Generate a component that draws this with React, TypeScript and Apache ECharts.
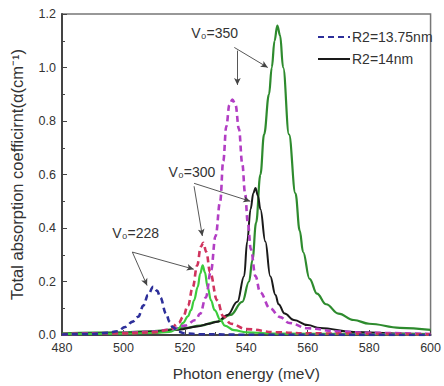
import { useEffect, useRef } from "react";
import * as echarts from "echarts";

// x: photon energy (meV), y: absorption coefficient
const blueDashed228 = [
  [480, 0.002], [490, 0.004], [495, 0.008], [498, 0.014], [500.6, 0.03], [503, 0.05], [504.8, 0.068],
  [506.5, 0.11], [508, 0.15], [509.7, 0.18], [511, 0.165], [512, 0.14], [513.9, 0.08], [515, 0.05],
  [516, 0.03], [518, 0.012], [520, 0.006], [525, 0.003], [540, 0.001], [600, 0.0],
];
const greenSolid228 = [
  [480, 0.003], [500, 0.005], [510, 0.008], [515, 0.012], [518, 0.025], [519.4, 0.045], [521, 0.07],
  [522, 0.093], [523, 0.13], [524.2, 0.18], [525, 0.23], [525.8, 0.26], [526.5, 0.235], [527.4, 0.18],
  [528.5, 0.13], [529.7, 0.093], [531.6, 0.056], [533, 0.035], [536, 0.018], [540, 0.01], [550, 0.005],
  [600, 0.002],
];
const redDashed300 = [
  [480, 0.003], [500, 0.006], [510, 0.01], [515, 0.02], [518, 0.045], [519.4, 0.067], [521, 0.11],
  [522.6, 0.18], [524, 0.26], [525.2, 0.33], [526, 0.345], [527, 0.31], [528.2, 0.235], [530.5, 0.13],
  [532.5, 0.07], [535, 0.042], [540, 0.022], [550, 0.01], [560, 0.006], [600, 0.002],
];
const blackSolid300 = [
  [480, 0.003], [500, 0.007], [510, 0.012], [518, 0.02], [524, 0.032], [528, 0.042], [530.6, 0.05],
  [533.9, 0.075], [537.1, 0.124], [539.3, 0.22], [540.3, 0.35], [541.4, 0.47], [542.3, 0.53], [543, 0.55],
  [543.8, 0.52], [544.6, 0.47], [546.2, 0.35], [547.8, 0.22], [549.5, 0.15], [550.5, 0.115], [552.5, 0.08],
  [555.5, 0.056], [560, 0.037], [564, 0.026], [575, 0.011], [590, 0.006], [600, 0.004],
];
const magentaDashed350 = [
  [480, 0.003], [500, 0.008], [510, 0.013], [515, 0.02], [520, 0.035], [523.5, 0.056], [525, 0.08],
  [526.8, 0.14], [528.5, 0.24], [530, 0.37], [531.5, 0.5], [532.5, 0.65], [533.5, 0.78], [534.5, 0.86],
  [535.5, 0.88], [536.5, 0.86], [537.6, 0.77], [538.7, 0.64], [539.6, 0.53], [540.5, 0.42], [541.5, 0.32],
  [543, 0.22], [544.5, 0.16], [547.7, 0.1], [551, 0.067], [554, 0.045], [560, 0.025], [570, 0.013],
  [580, 0.008], [600, 0.004],
];
const greenSolid350 = [
  [480, 0.006], [500, 0.01], [510, 0.015], [520, 0.026], [525, 0.035], [530.6, 0.05], [534.9, 0.075],
  [538.7, 0.124], [540.9, 0.2], [542, 0.28], [543.2, 0.42], [544.6, 0.6], [545.8, 0.75], [547.4, 0.9],
  [548.3, 1.0], [549.2, 1.1], [550.1, 1.157], [551, 1.12], [552, 1.0], [553.9, 0.75], [556, 0.53],
  [557.4, 0.39], [558.5, 0.31], [560.6, 0.21], [563, 0.155], [566, 0.115], [570, 0.08], [575, 0.056],
  [580, 0.042], [590, 0.027], [600, 0.019],
];

const legendNames = ["R2=13.75nm", "R2=14nm"];

// annotations: label text and position, arrows (data coords)
const annotLabels = [
  { text: "V₀=350", at: [529.7, 1.13] },
  { text: "V₀=300", at: [522.3, 0.608] },
  { text: "V₀=228", at: [504.0, 0.38] },
];
const annotArrows = [
  [[537.1, 1.063], [537.1, 0.935]],
  [[536.1, 1.075], [547.0, 1.0]],
  [[523.0, 0.567], [541.3, 0.5]],
  [[523.0, 0.556], [525.7, 0.37]],
  [[502.9, 0.31], [522.9, 0.246]],
  [[502.9, 0.31], [507.7, 0.185]],
];

const xMin = 480, xMax = 600, xStep = 20;
const yMin = 0, yMax = 1.2, yStep = 0.2;

export default function App() {
  const ref = useRef<HTMLDivElement>(null);
  useEffect(() => {
    const chart = echarts.init(ref.current!, null, { renderer: "svg" });
    const dashed = (color: string, data: number[][], name: string) => ({
      type: "line", name, data, showSymbol: false, symbol: "none", smooth: 0.4, smoothMonotone: "x",
      lineStyle: { color, width: 2.6, type: [6, 4] }, itemStyle: { color }, z: 3,
    });
    const solid = (color: string, data: number[][], name: string, width = 2) => ({
      type: "line", name, data, showSymbol: false, symbol: "none", smooth: 0.4, smoothMonotone: "x",
      lineStyle: { color, width }, itemStyle: { color }, z: 2,
    });
    const axisFont = { fontFamily: "Liberation Sans, Arial, sans-serif", fontSize: 12, color: "#333" };
    chart.setOption({
      animation: false,
      grid: { left: 62, right: 9, top: 14, bottom: 51, show: true, borderColor: "#777", borderWidth: 1.5 },
      legend: {
        data: legendNames, orient: "vertical", left: 312, top: 25, itemWidth: 32, itemHeight: 12, itemGap: 8,
        itemStyle: { opacity: 0 },
        textStyle: { ...axisFont, fontSize: 14, color: "#333", padding: [0, 0, 0, -3] },
      },
      xAxis: {
        type: "value", min: xMin, max: xMax, interval: xStep,
        name: "Photon energy (meV)", nameLocation: "middle", nameGap: 30,
        nameTextStyle: { ...axisFont, fontSize: 15.5 },
        axisLine: { lineStyle: { color: "#444", width: 2 } },
        axisTick: { inside: true, length: 5, lineStyle: { color: "#444" } },
        minorTick: { show: true, splitNumber: 2, length: 3, lineStyle: { color: "#444" } },
        splitLine: { show: false },
        axisLabel: { ...axisFont, fontSize: 12.5, margin: 6, formatter: (v: number) => String(v) },
      },
      yAxis: {
        type: "value", min: yMin, max: yMax, interval: yStep,
        name: "Total absorption coefficirnt(α(cm⁻¹)", nameLocation: "middle", nameGap: 37,
        nameTextStyle: { ...axisFont, fontSize: 16.5 },
        axisLine: { show: true, lineStyle: { color: "#444", width: 2 } },
        axisTick: { show: true, inside: true, length: 5, lineStyle: { color: "#444" } },
        minorTick: { show: true, splitNumber: 2, length: 3, lineStyle: { color: "#444" } },
        splitLine: { show: false },
        axisLabel: { ...axisFont, fontSize: 12.5, margin: 6, formatter: (v: number) => v.toFixed(1) },
      },
      series: [
        solid("#2e8b2e", greenSolid350, "g350", 2.2),
        solid("#1a1a1a", blackSolid300, "k300", 2),
        solid("#3ccc3c", greenSolid228, "g228", 2.2),
        dashed("#b23ec4", magentaDashed350, "m350"),
        dashed("#d0345e", redDashed300, "r300"),
        dashed("#2d2f9a", blueDashed228, "b228"),
        { type: "line", name: legendNames[0], data: [], symbol: "none", showSymbol: false, lineStyle: { color: "#2d2f9a", width: 2.6, type: [6, 4] }, itemStyle: { color: "#2d2f9a" } },
        { type: "line", name: legendNames[1], data: [], symbol: "none", showSymbol: false, lineStyle: { color: "#1a1a1a", width: 2.2 }, itemStyle: { color: "#1a1a1a" } },
        {
          type: "line", name: "annot", data: [], symbol: "none", z: 5,
          markLine: {
            silent: true, symbol: ["none", "arrow"], symbolSize: [5, 7],
            lineStyle: { color: "#444", width: 0.9, type: "solid" },
            label: { show: false },
            data: annotArrows.map(([a, b]) => [{ coord: a }, { coord: b }]),
          },
          markPoint: {
            silent: true, symbol: "circle", symbolSize: 1, itemStyle: { color: "transparent" },
            label: { show: true, position: "inside", ...axisFont, fontSize: 14, color: "#333", formatter: (p: any) => p.name },
            data: annotLabels.map((l) => ({ name: l.text, coord: l.at })),
          },
        },
      ],
    });
    return () => chart.dispose();
  }, []);
  return <div ref={ref} style={{ width: 444, height: 386, position: "absolute", left: 0, top: 0 }} />;
}
